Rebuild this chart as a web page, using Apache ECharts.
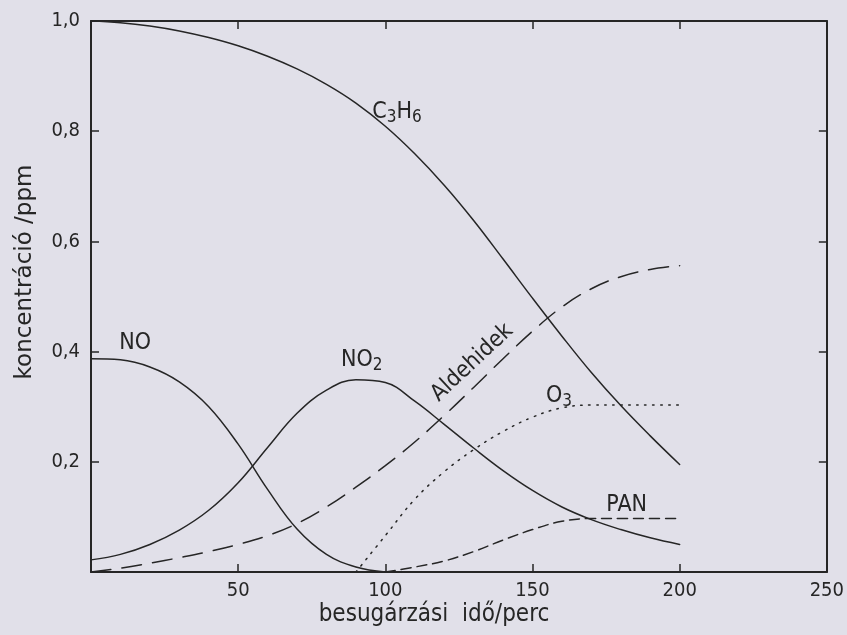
<!DOCTYPE html>
<html>
<head>
<meta charset="utf-8">
<script src="https://cdn.jsdelivr.net/npm/echarts@6/dist/echarts.min.js"></script>
<style>
html,body{margin:0;padding:0;background:#e1e0e9;}
#c{width:847px;height:635px;}
</style>
</head>
<body>
<div id="c"></div>
<script>
// ---- data (time in minutes, concentration in ppm) ----
const times = [0,10,20,30,40,50,60,70,80,90,100,110,120,130,140,150,160,170,180,190,200];
const c3h6 = [1.0,0.997,0.991,0.982,0.970,0.955,0.936,0.913,0.885,0.851,0.809,0.759,0.702,0.638,0.568,0.497,0.428,0.362,0.302,0.247,0.195];
const no   = [0.387,0.385,0.372,0.345,0.300,0.232,0.150,0.078,0.032,0.009,0.0,null,null,null,null,null,null,null,null,null,null];
const no2  = [0.022,0.032,0.050,0.076,0.112,0.162,0.226,0.288,0.330,0.349,0.344,0.310,0.268,0.225,0.184,0.148,0.118,0.095,0.077,0.062,0.050];
const aldehidek = [0.0,0.007,0.016,0.026,0.037,0.050,0.066,0.088,0.118,0.154,0.193,0.236,0.284,0.335,0.387,0.437,0.481,0.514,0.536,0.549,0.556];
const o3   = [null,null,null,null,null,null,null,null,null,0.0,0.066,0.132,0.182,0.222,0.255,0.281,0.298,0.303,0.303,0.303,0.303];
const pan  = [null,null,null,null,null,null,null,null,null,null,0.0,0.009,0.020,0.037,0.058,0.077,0.092,0.097,0.097,0.097,0.097];
const xTicks = [50,100,150,200,250];
const yTicks = [0.2,0.4,0.6,0.8,1.0];
const xTitle = 'besugárzási  idő/perc';
const yTitle = 'koncentráció /ppm';

const INK = '#262626';
const FONT = "'DejaVu Sans Condensed','DejaVu Sans',sans-serif";
const FONT2 = "'DejaVu Sans',sans-serif";

function pairs(arr){ return times.map((t,i)=>[t,arr[i]]); }

const lbl = (txt, coord, extra) => ({
  coord: coord, value: txt, symbolSize: 0,
  label: Object.assign({show:true, position:'inside', formatter: txt, color: INK, fontFamily: FONT, fontSize: 23,
    rich:{ s:{fontSize:17, fontFamily: FONT, color: INK, padding:[12,0,0,0]}, n:{fontSize:23, fontFamily: FONT, color: INK} }}, extra||{})
});

function line(name, arr, dash, labelItem){
  return {
    name: name, type:'line', data: pairs(arr), showSymbol:false, smooth:0.4, connectNulls:false,
    lineStyle:{color:INK, width:1.5, type: dash || 'solid', cap:'round'},
    silent:true, animation:false,
    markPoint: labelItem ? {symbol:'circle', symbolSize:0, data:[labelItem], animation:false} : undefined
  };
}

const chart = echarts.init(document.getElementById('c'), null, {renderer:'canvas'});
const axisCommon = {
  type:'value',
  axisLine:{show:true, onZero:false, lineStyle:{color:INK, width:2}},
  axisTick:{show:true, inside:true, length:8, lineStyle:{color:INK, width:1.5}},
  splitLine:{show:false}
};
chart.setOption({
  backgroundColor:'#e1e0e9',
  animation:false,
  grid:{left:91, right:18, top:21, bottom:63, containLabel:false},
  xAxis:[
    Object.assign({}, axisCommon, {min:0, max:250, interval:50, position:'bottom',
      axisLabel:{show:true, margin:9, color:INK, fontFamily:FONT, fontSize:20,
        formatter: v => xTicks.includes(v) ? String(v) : ''}}),
    Object.assign({}, axisCommon, {min:0, max:250, interval:50, position:'top', axisLabel:{show:false}})
  ],
  yAxis:[
    Object.assign({}, axisCommon, {min:0, max:1.0, interval:0.2, position:'left',
      axisLabel:{show:true, margin:11, color:INK, fontFamily:FONT, fontSize:20,
        formatter: v => yTicks.some(t=>Math.abs(t-v)<1e-9) ? v.toFixed(1).replace('.', ',') : ''}}),
    Object.assign({}, axisCommon, {min:0, max:1.0, interval:0.2, position:'right', axisLabel:{show:false}})
  ],
  graphic:[
    {type:'text', x:14, y:272, rotation:Math.PI/2, silent:true,
      style:{text:yTitle, font:"23px "+FONT2, fill:INK, textAlign:'center', textVerticalAlign:'top'}},
    {type:'text', x:434, y:603, silent:true, style:{text:xTitle, font:"24px "+FONT, fill:INK, textAlign:'center'}}
  ],
  series:[
    line('C3H6', c3h6, 'solid', lbl('{n|C}{s|3}{n|H}{s|6}', [104,0.835])),
    line('NO', no, 'solid', lbl('{n|NO}', [15,0.415])),
    line('NO2', no2, 'solid', lbl('{n|NO}{s|2}', [92,0.385])),
    line('Aldehidek', aldehidek, [20,11], lbl('{n|Aldehidek}', [129.5,0.38], {rotate:43})),
    line('O3', o3, [1.5,6.5], lbl('{n|O}{s|3}', [159,0.32])),
    line('PAN', pan, [10,6], lbl('{n|PAN}', [182,0.122]))
  ]
});
</script>
</body>
</html>
